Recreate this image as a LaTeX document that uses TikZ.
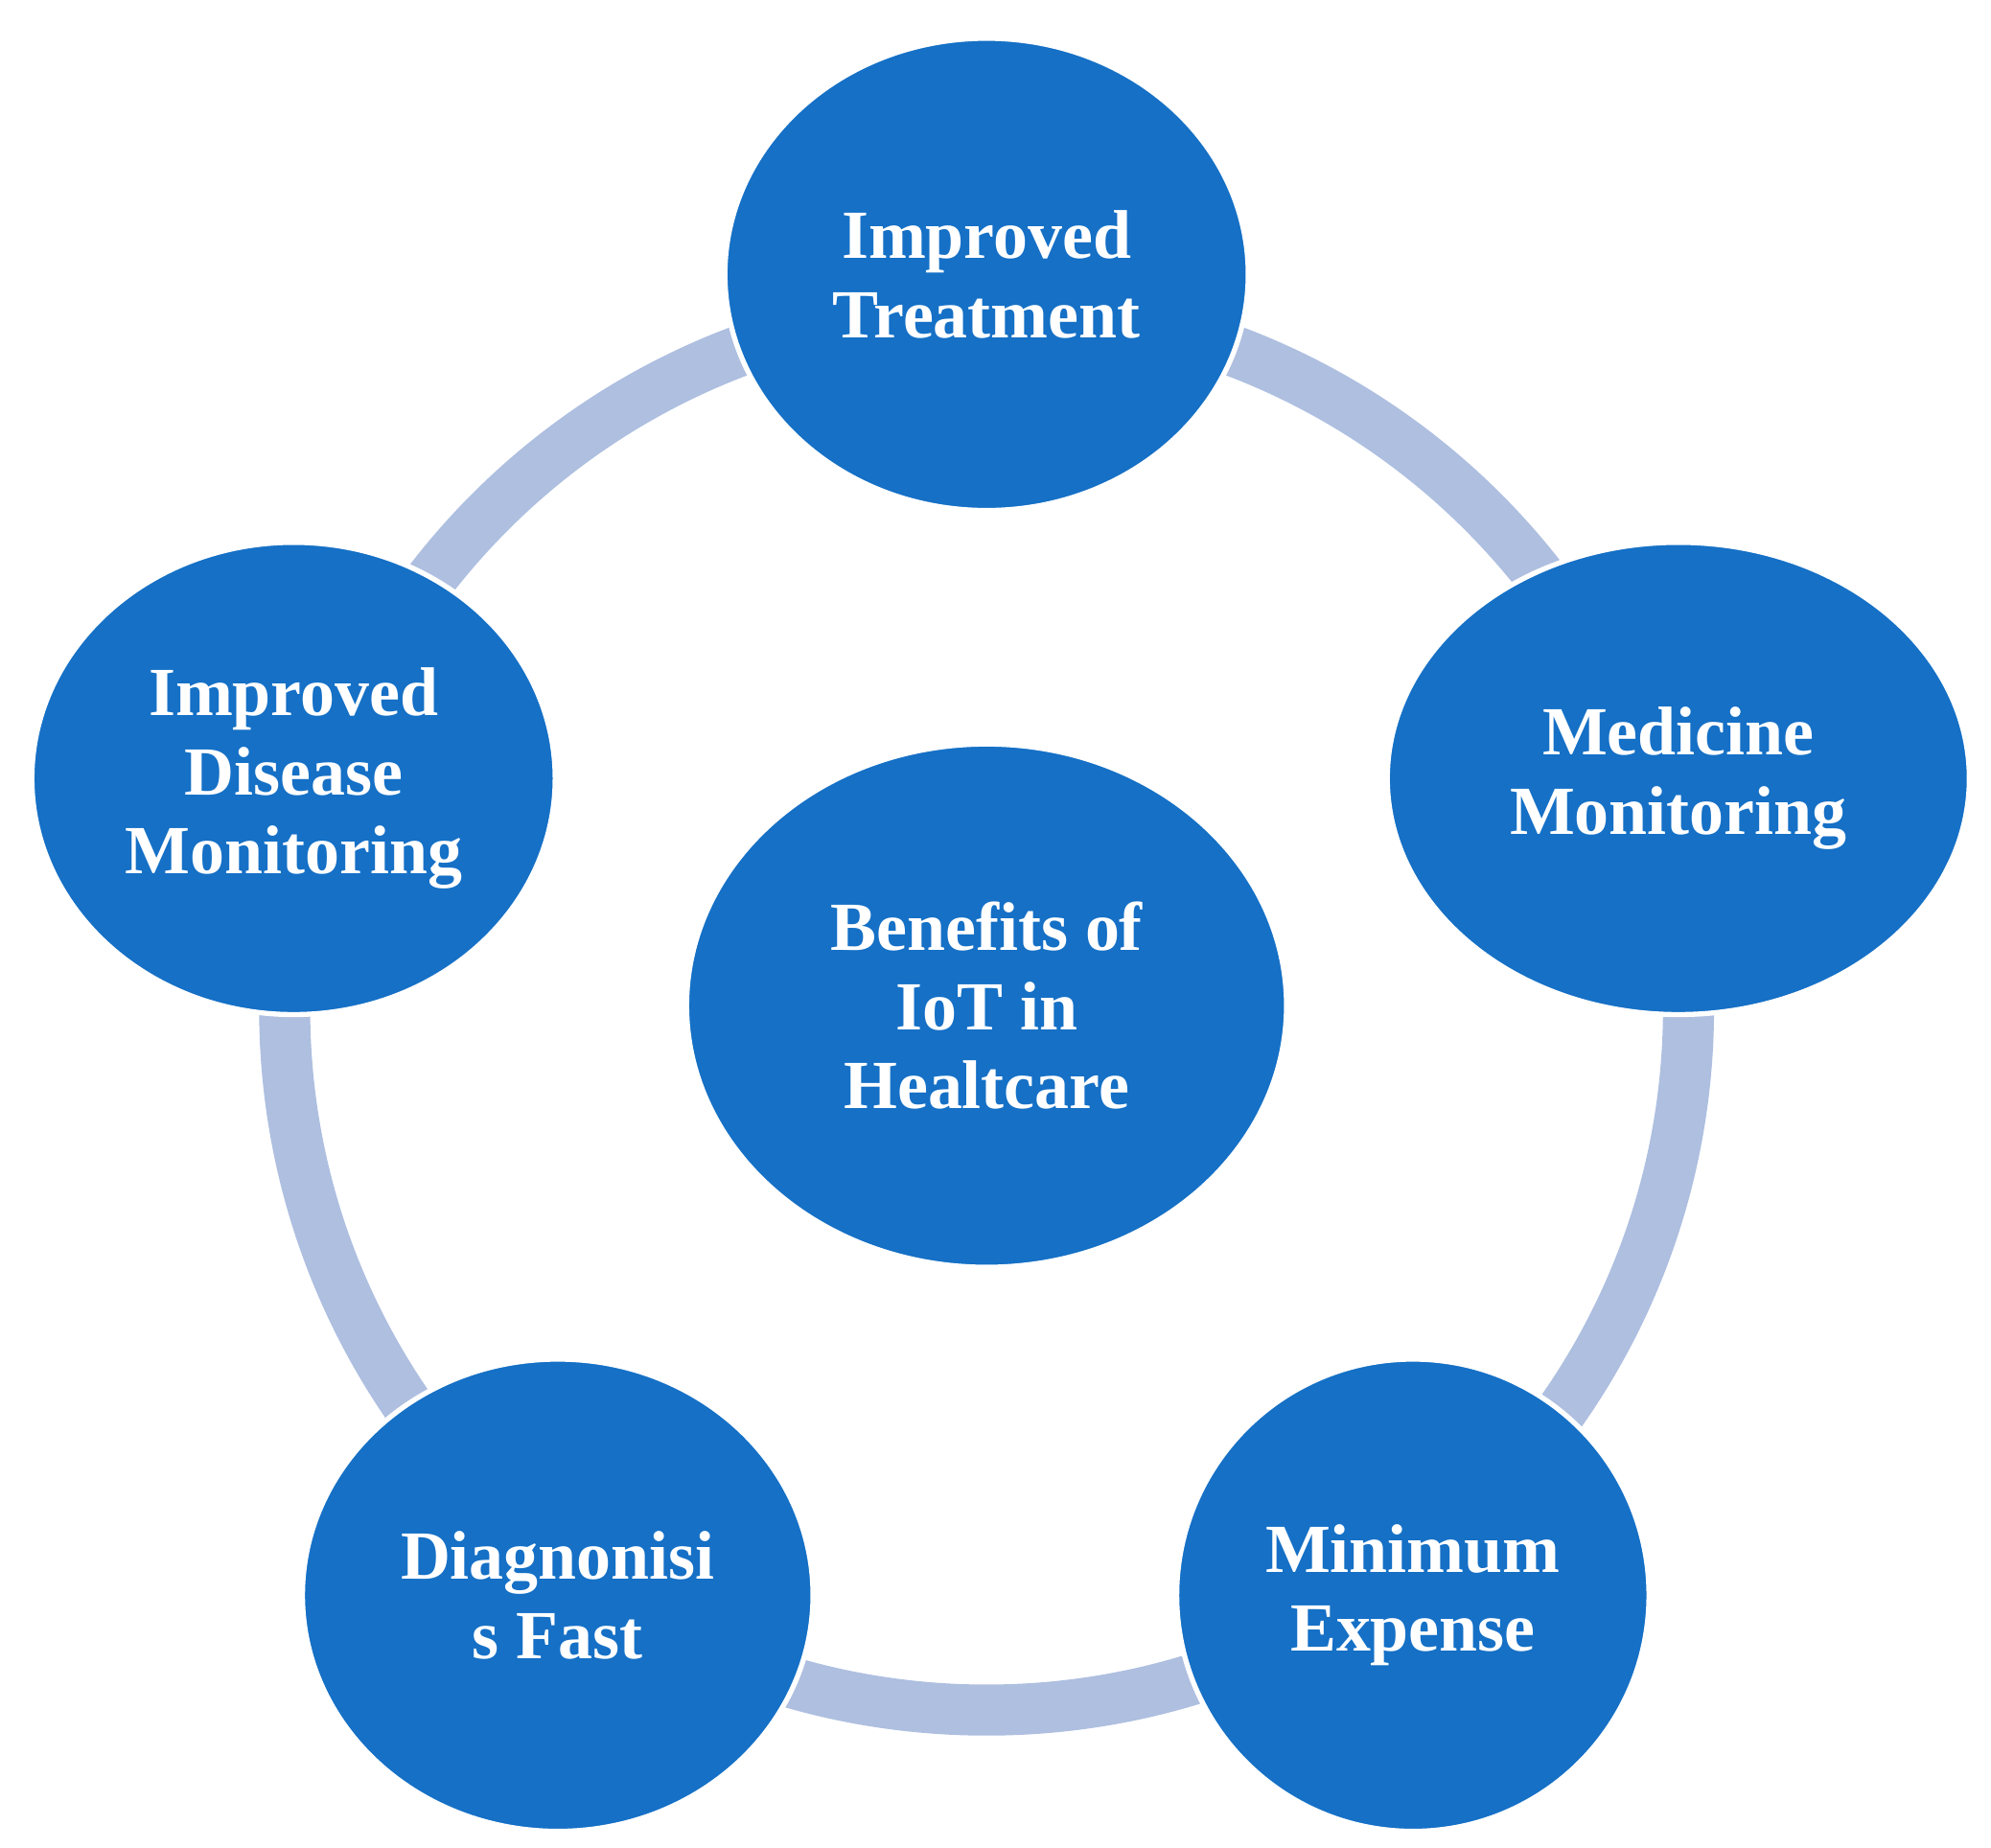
\documentclass[tikz,border=0pt]{standalone}
\usepackage{fontspec}
\setmainfont{Liberation Serif}
\usetikzlibrary{shapes.geometric}
\definecolor{ring}{HTML}{AEBFE0}
\definecolor{blob}{HTML}{1570C6}
\begin{document}
\begin{tikzpicture}[x=1pt,y=-1pt,
  blob/.style={ellipse,fill=blob,draw=white,line width=4pt,inner sep=0pt,
    text=white,align=center,font=\fontsize{54}{62}\selectfont\bfseries}]
\useasboundingbox (0,0) rectangle (1560,1448);
\draw[ring,line width=40pt] (773,790) circle (550);
\node[blob,minimum width=410,minimum height=370] (t) at (773,215) {Improved\\Treatment};
\node[blob,minimum width=456,minimum height=370] (r) at (1315,610) {Medicine\\Monitoring};
\node[blob,minimum width=370,minimum height=370] (br) at (1107,1250) {Minimum\\Expense};
\node[blob,minimum width=400,minimum height=370] (bl) at (437,1250) {Diagnonisi\\s Fast};
\node[blob,minimum width=410,minimum height=370] (l) at (230,610) {Improved\\Disease\\Monitoring};
\node[blob,minimum width=470,minimum height=410] (c) at (773,788) {Benefits of\\IoT in\\Healtcare};
\end{tikzpicture}
\end{document}
